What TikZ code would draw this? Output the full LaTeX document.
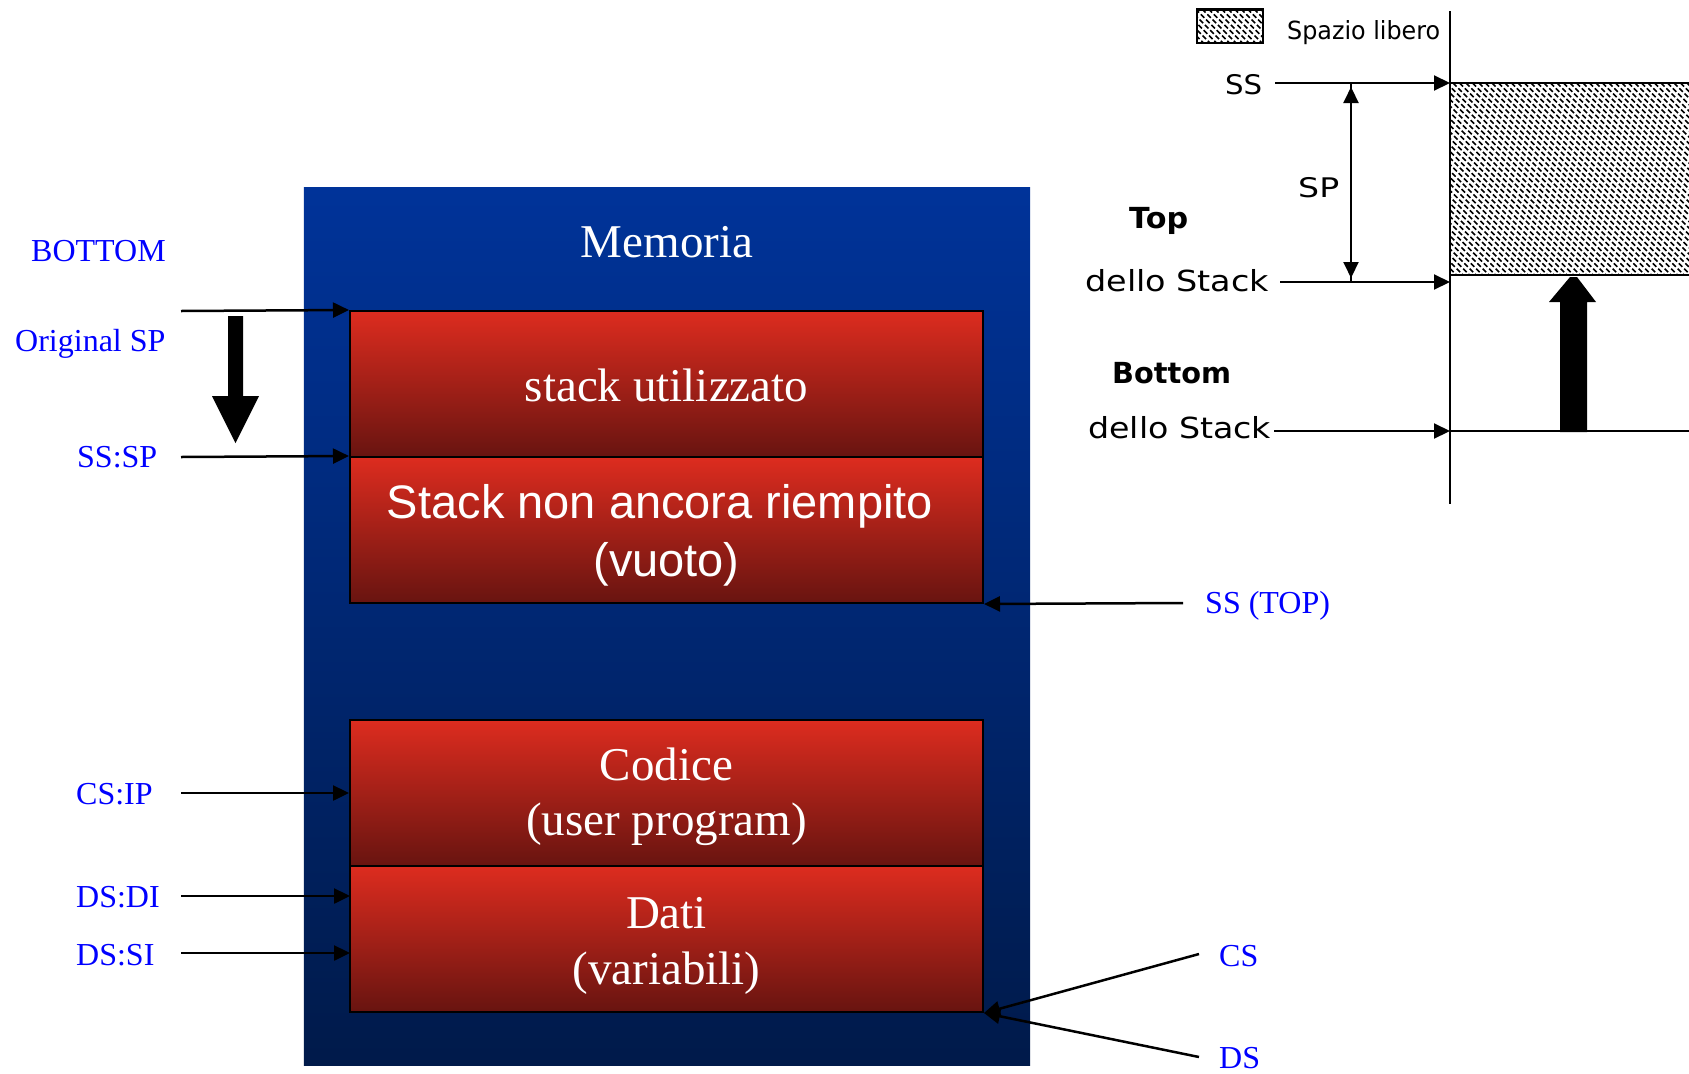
\documentclass[tikz,border=0pt]{standalone}
\usepackage{fontspec}
\setmainfont{Liberation Serif}
\setsansfont{Liberation Sans}
\newfontfamily\pixfont{DejaVu Sans}
\usetikzlibrary{arrows.meta}
\definecolor{bluetop}{RGB}{0,51,153}
\definecolor{bluebot}{RGB}{0,26,74}
\definecolor{redtop}{RGB}{221,44,31}
\definecolor{redbot}{RGB}{104,20,16}
\definecolor{lblblue}{RGB}{0,0,255}
% stretch a label to a given width, keeping its height
\newcommand\fitw[2]{\resizebox{#1}{\height}{#2}}
% dashed diagonal texture for free stack space
\newcommand\hatcharea[4]{%
  \begin{scope}
    \clip (#1,#2) rectangle (#3,#4);
    \foreach \k in {0,...,75}
      \draw[hatchline] ({#1-(#4-#2)+\k*6.5},#2) -- ++(230,230);
  \end{scope}}
\tikzset{
  memory/.style={top color=bluetop, bottom color=bluebot, minimum width=726bp,
    minimum height=877bp, inner sep=0},
  segment/.style={draw=black, line width=2bp, top color=redtop, bottom color=redbot,
    minimum width=633bp, minimum height=146bp, inner sep=0},
  segtxt/.style={text=white, font=\fontsize{47bp}{56bp}\selectfont, anchor=base, inner sep=0},
  segsans/.style={segtxt, font=\sffamily\fontsize{47bp}{56bp}\selectfont},
  reglbl/.style={text=lblblue, font=\fontsize{32bp}{38bp}\selectfont, anchor=base west, inner sep=0},
  ptr/.style={line width=2.5bp, -{Triangle[length=16bp,width=15bp]}},
  pix/.style={font=\pixfont\fontsize{27bp}{30bp}\selectfont, anchor=base west, inner sep=0},
  pixbold/.style={font=\pixfont\bfseries\fontsize{29bp}{32bp}\selectfont, anchor=base west, inner sep=0},
  thinline/.style={line width=2bp},
  rptr/.style={line width=2bp, -{Triangle[length=16bp,width=15bp]}},
  hatchline/.style={line width=1.5bp, dash pattern=on 5bp off 2.5bp},
}
\begin{document}
\begin{tikzpicture}[x=1bp,y=-1bp]
\useasboundingbox (0,0) rectangle (1689,1073);
\fill[white] (0,0) rectangle (1689,1073);

% ---------- memory layout ----------
\node[memory] (mem) at (667,626.5) {};
\node[segtxt] (memtitle) at (667,257) {Memoria};

\node[segment] (used) at (666.5,384) {};
\node[segment] (free) at (666.5,530) {};
\node[segment] (code) at (666.5,793) {};
\node[segment] (data) at (666.5,939) {};

\node[segtxt] (usedtxt) at (666.5,401) {stack utilizzato};
\node[segsans] (freetxt1) at (660,518) {Stack non ancora riempito};
\node[segsans] (freetxt2) at (666.5,576) {(vuoto)};
\node[segtxt] (codetxt1) at (666.5,780) {Codice};
\node[segtxt] (codetxt2) at (666.5,835) {(user program)};
\node[segtxt] (datatxt1) at (666.5,928) {Dati};
\node[segtxt] (datatxt2) at (666.5,984) {(variabili)};

% register labels
\node[reglbl] (bottom) at (31,261) {BOTTOM};
\node[reglbl] (origsp) at (15,351) {Original SP};
\node[reglbl] (sssp) at (77,467) {SS:SP};
\node[reglbl] (csip) at (76,804) {CS:IP};
\node[reglbl] (dsdi) at (76,907) {DS:DI};
\node[reglbl] (dssi) at (76,965) {DS:SI};
\node[reglbl] (sstop) at (1205,613) {SS (TOP)};
\node[reglbl] (cs) at (1219,966) {CS};
\node[reglbl] (ds) at (1219,1068) {DS};

% pointer tails and targets
\coordinate (origspTail) at (181,311);
\coordinate (ssspTail) at (181,457);
\coordinate (csipTail) at (181,793);
\coordinate (dsdiTail) at (181,896);
\coordinate (dssiTail) at (181,953);
\coordinate (dsdiHead) at (350,896);
\coordinate (dssiHead) at (350,953);
\coordinate (sstopTail) at (1183,603);
\coordinate (csTail) at (1199,954);
\coordinate (dsTail) at (1199,1057);

\draw[ptr] (origspTail) -- (used.north west);
\draw[ptr] (ssspTail) -- (free.north west);
\draw[ptr] (csipTail) -- (code.west);
\draw[ptr] (dsdiTail) -- (dsdiHead);
\draw[ptr] (dssiTail) -- (dssiHead);
\draw[ptr] (sstopTail) -- (free.south east);
\draw[ptr] (csTail) -- (data.south east);
\draw[ptr] (dsTail) -- (data.south east);

% stack growth direction
\fill (228,316) -- (243,316) -- (243,396) -- (259,396) -- (235.5,443)
  -- (212,396) -- (228,396) -- cycle;

% ---------- stack segment sketch ----------
% legend
\hatcharea{1197}{9}{1263}{43}
\draw[thinline] (1197,9) rectangle (1263,43);
\draw[line width=3bp] (1197,9) -- (1263,9);
\node[pix, font=\pixfont\fontsize{25bp}{28bp}\selectfont] (legtxt) at (1287,39) {\fitw{153bp}{Spazio libero}};

% address axis
\coordinate (axTop) at (1450,11);
\coordinate (axBot) at (1450,504);
\draw[thinline] (axTop) -- (axBot);

% free space block
\hatcharea{1450}{83}{1689}{275}
\coordinate (ssHead) at (1450,83);
\coordinate (ssTail) at (1275,83);
\coordinate (topHead) at (1450,282);
\coordinate (topTail) at (1280,282);
\coordinate (botHead) at (1450,431);
\coordinate (botTail) at (1274,431);
\draw[thinline] (ssHead) -- (1689,83);
\draw[thinline] (1450,275) -- (1689,275);
\draw[thinline] (botHead) -- (1689,431);

\draw[rptr] (ssTail) -- (ssHead);
\draw[rptr] (topTail) -- (topHead);
\draw[rptr] (botTail) -- (botHead);

% SP span
\draw[thinline] (1351,83) -- (1351,282);
\draw[rptr] (1351,110) -- (1351,87);
\draw[rptr] (1351,255) -- (1351,278);

% growth of the stack
\fill (1560,432) -- (1560,302) -- (1549,302) -- (1570,277) -- (1577,277)
  -- (1596,302) -- (1587,302) -- (1587,432) -- cycle;

\node[pix] (ssR) at (1225,94) {\fitw{37bp}{SS}};
\node[pix] (spR) at (1298,197) {\fitw{41bp}{SP}};
\node[pixbold] (topR) at (1129,228) {\fitw{59bp}{Top}};
\node[pix, font=\pixfont\fontsize{29bp}{32bp}\selectfont] (dello1) at (1085,291) {\fitw{184bp}{dello Stack}};
\node[pixbold] (botR) at (1112,383) {\fitw{119bp}{Bottom}};
\node[pix, font=\pixfont\fontsize{29bp}{32bp}\selectfont] (dello2) at (1088,438) {\fitw{183bp}{dello Stack}};
\end{tikzpicture}
\end{document}
